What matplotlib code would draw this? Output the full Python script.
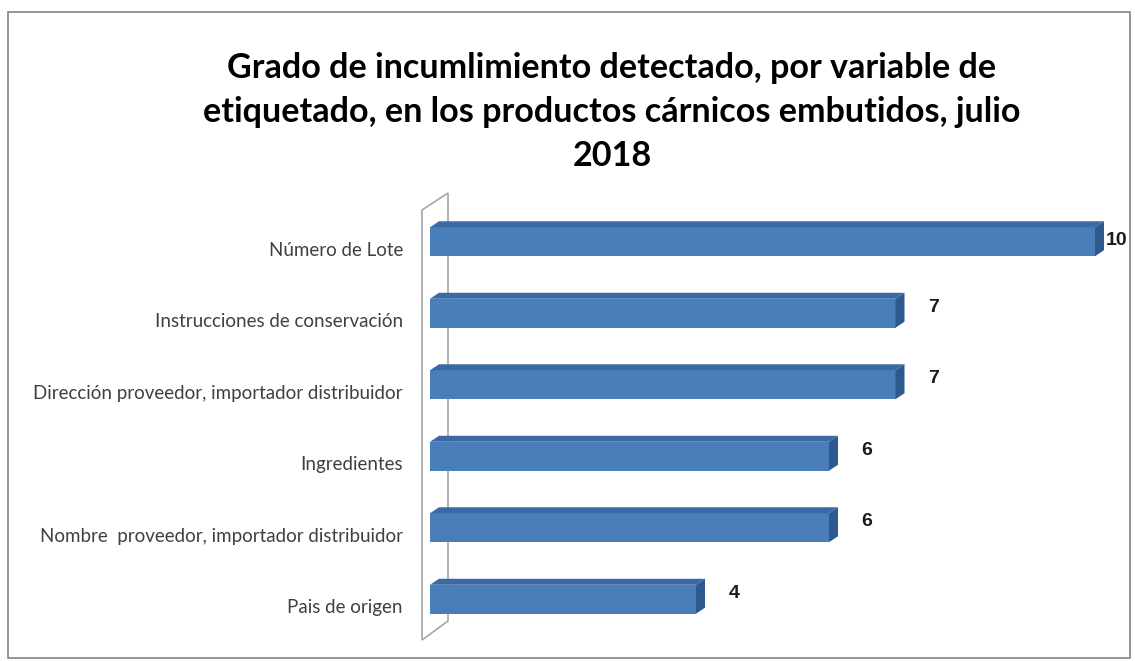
import numpy as np
import matplotlib.pyplot as plt
from matplotlib.patches import Polygon, Rectangle
from matplotlib.transforms import ScaledTranslation, IdentityTransform

# datos del gráfico
categorias = [
    "Número de Lote",
    "Instrucciones de conservación",
    "Dirección proveedor, importador distribuidor",
    "Ingredientes",
    "Nombre  proveedor, importador distribuidor",
    "Pais de origen",
]
valores = [10, 7, 7, 6, 6, 4]
titulo = ("Grado de incumlimiento detectado, por variable de\n"
          "etiquetado, en los productos cárnicos embutidos, julio\n"
          "2018")

W, H = 1135, 661
fig = plt.figure(figsize=(W / 100, H / 100), dpi=100)
ax = fig.add_axes([430 / W, 26 / H, 665 / W, 429 / H])

pos = np.arange(len(categorias))[::-1]
alto = 0.405
azul, azul_sup, azul_lado = "#4a7ebb", "#3b69a3", "#2c5a8e"

ax.barh(pos, valores, height=alto, color=azul, zorder=3)
ax.set_xlim(0, 10)
ax.set_ylim(-0.5, len(categorias) - 0.5)

# caras superior y lateral de cada barra (efecto 3D), en pixeles
dx, dy = 9, 6
for p, v in zip(pos, valores):
    x0, y0 = ax.transData.transform((0, p - alto / 2))
    x1, y1 = ax.transData.transform((v, p + alto / 2))
    sup = Polygon([(x0, y1), (x1, y1), (x1 + dx, y1 + dy), (x0 + dx, y1 + dy)],
                  closed=True, transform=IdentityTransform(),
                  facecolor=azul_sup, edgecolor="none", clip_on=False, zorder=3)
    lado = Polygon([(x1, y0), (x1 + dx, y0 + dy), (x1 + dx, y1 + dy), (x1, y1)],
                   closed=True, transform=IdentityTransform(),
                   facecolor=azul_lado, edgecolor="none", clip_on=False, zorder=3)
    ax.add_patch(sup)
    ax.add_patch(lado)

# pared lateral del grafico 3D
bb = ax.get_window_extent()
pared = Polygon([(bb.x0 - 8, bb.y1 - 4), (bb.x0 + 18, bb.y1 + 13),
                 (bb.x0 + 18, bb.y0 + 14), (bb.x0 - 8, bb.y0 - 5)],
                closed=True, transform=IdentityTransform(), fill=False,
                edgecolor="#a6a6a6", linewidth=1.2, clip_on=False, zorder=2)
ax.add_patch(pared)

# etiquetas de categorias
ax.set_yticks(pos)
ax.set_yticklabels(categorias, fontsize=13.5, color="#404040", family="Lato")
ax.tick_params(axis="y", length=0, pad=19.5)
bajar = ScaledTranslation(0, -0.07, fig.dpi_scale_trans)
for lbl in ax.get_yticklabels():
    lbl.set_transform(lbl.get_transform() + bajar)

ax.set_xticks([])
for s in ax.spines.values():
    s.set_visible(False)
ax.patch.set_visible(False)

# valores
for p, v in zip(pos, valores):
    if v < max(valores):
        sep, sube = 38, 6
    else:
        sep, sube = 22, 1
    ax.annotate(str(v), (v, p), xytext=(sep * 0.72, sube * 0.72),
                textcoords="offset points", ha="center", va="center",
                fontsize=14, fontweight="bold", family="Liberation Sans",
                color="#1a1a1a", annotation_clip=False)

fig.text(612 / W, 1 - 112 / H, titulo, ha="center", va="center",
         fontsize=24.6, fontweight="bold", family="Lato", linespacing=1.45)

# marco exterior
fig.add_artist(Rectangle((8 / W, 3 / H), 1122 / W, 646 / H, fill=False,
                         edgecolor="#8c8c8c", linewidth=1.3,
                         transform=fig.transFigure))

fig.savefig("out.png", dpi=100)
